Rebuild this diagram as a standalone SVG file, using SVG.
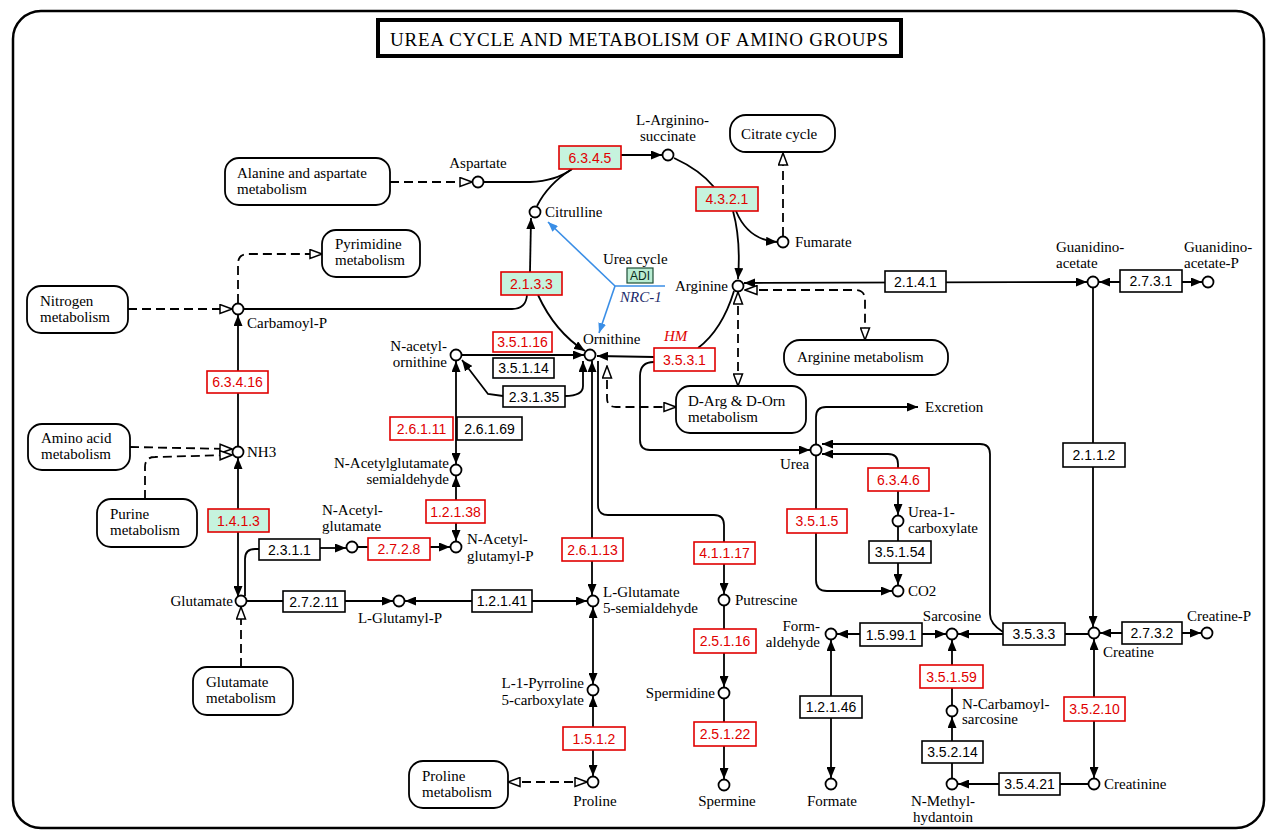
<svg xmlns="http://www.w3.org/2000/svg" width="1270" height="831" viewBox="0 0 1270 831">
<defs>
<style>
.c{font-family:"Liberation Serif",serif;font-size:15px;fill:#000}
.e{font-family:"Liberation Sans",sans-serif;font-size:14px;text-anchor:middle}
.m{text-anchor:middle}
.r{text-anchor:end}
.ln{fill:none;stroke:#000;stroke-width:1.8}
.d{fill:none;stroke:#000;stroke-width:1.8;stroke-dasharray:9,5}
.bl{fill:none;stroke:#3a8ee6;stroke-width:1.6}
.cp{fill:#fff;stroke:#000;stroke-width:1.8}
.eb{fill:#fff;stroke:#000;stroke-width:1.6}
.er{fill:#fff;stroke:#e00000;stroke-width:1.6}
.eg{fill:#c6f3de;stroke:#e00000;stroke-width:1.6}
.tr{fill:#e00000}
.tk{fill:#000}
.mp{fill:#fff;stroke:#000;stroke-width:1.8}
</style>
<marker id="a" viewBox="0 0 11 9" refX="11" refY="4.5" markerWidth="11" markerHeight="9" markerUnits="userSpaceOnUse" orient="auto-start-reverse"><path d="M0,0 L11,4.5 L0,9 z" fill="#000"/></marker>
<marker id="o" viewBox="0 0 14 11" refX="13" refY="5.5" markerWidth="14" markerHeight="11" markerUnits="userSpaceOnUse" orient="auto-start-reverse"><path d="M1,1 L13,5.5 L1,10 z" fill="#fff" stroke="#000" stroke-width="1.5"/></marker>
<marker id="b" viewBox="0 0 10 8" refX="10" refY="4" markerWidth="10" markerHeight="8" markerUnits="userSpaceOnUse" orient="auto"><path d="M0,0 L10,4 L0,8 z" fill="#3a8ee6"/></marker>
</defs>
<rect x="0" y="0" width="1270" height="831" fill="#fff"/>
<rect x="13" y="11" width="1251" height="817" rx="28" fill="none" stroke="#000" stroke-width="2.5"/>
<g id="title">
<rect x="378" y="20" width="523" height="36" fill="#fff" stroke="#000" stroke-width="4"/>
<text x="390" y="46" style="font-family:'Liberation Serif',serif;font-size:19px" textLength="498" lengthAdjust="spacing">UREA CYCLE AND METABOLISM OF AMINO GROUPS</text>
</g>
<g id="connectors">
<!-- urea cycle -->
<path class="ln" d="M537,206 Q548,184 572,169"/>
<path class="ln" d="M484,182 L530,182 Q556,181 572,169"/>
<path class="ln" d="M621,155 L662,155" marker-end="url(#a)"/>
<path class="ln" d="M674,158 Q700,170 714,187"/>
<path class="ln" d="M733,211 Q741,240 738,279" marker-end="url(#a)"/>
<path class="ln" d="M736,211 Q748,240 777,242" marker-end="url(#a)"/>
<path class="ln" d="M734,291 Q722,330 698,348"/>
<path class="ln" d="M654,357 L597,356" marker-end="url(#a)"/>
<path class="ln" d="M654,362 Q640,362 640,376 L640,440 Q640,450 650,450 L810,450" marker-end="url(#a)"/>
<path class="ln" d="M538,295 Q555,332 585,351" marker-end="url(#a)"/>
<path class="ln" d="M244,309 L512,309 Q526,309 527,295"/>
<path class="ln" d="M530,272 L531,218" marker-end="url(#a)"/>
<path class="bl" d="M615,286 L665,286"/>
<path class="bl" d="M615,286 L548,222" marker-end="url(#b)"/>
<path class="bl" d="M615,286 L599,333" marker-end="url(#b)"/>
<!-- ornithine area -->
<path class="ln" d="M462,355 L584,355" marker-end="url(#a)"/>
<path class="ln" d="M503,396 L488,394 L462,360" marker-end="url(#a)"/>
<path class="ln" d="M565,396 Q583,396 583,386 L583,361" marker-end="url(#a)"/>
<path class="ln" d="M592,361 L592,595" marker-start="url(#a)" marker-end="url(#a)"/>
<path class="ln" d="M598,361 L598,505 Q598,515 608,515 L714,515 Q724,515 724,525 L724,542"/>
<path class="ln" d="M724,564 L724,594" marker-end="url(#a)"/>
<path class="d" d="M607,366 L607,398 Q607,407 616,407 L676,407" marker-start="url(#o)" marker-end="url(#o)"/>
<path class="ln" d="M456,361 L456,464" marker-start="url(#a)" marker-end="url(#a)"/>
<path class="ln" d="M456,476 L456,541" marker-start="url(#a)" marker-end="url(#a)"/>
<path class="ln" d="M358,547 L450,547" marker-end="url(#a)"/>
<path class="ln" d="M245,596 L245,559 Q245,549 255,549 L259,549"/>
<path class="ln" d="M320,548 L346,548" marker-end="url(#a)"/>
<path class="ln" d="M238,597 L238,458" marker-start="url(#a)" marker-end="url(#a)"/>
<path class="ln" d="M238,446 L238,315" marker-end="url(#a)"/>
<path class="ln" d="M247,601 L393,601" marker-end="url(#a)"/>
<path class="ln" d="M405,601 L587,601" marker-start="url(#a)" marker-end="url(#a)"/>
<path class="ln" d="M593,607 L593,684" marker-start="url(#a)" marker-end="url(#a)"/>
<path class="ln" d="M593,696 L593,776" marker-start="url(#a)" marker-end="url(#a)"/>
<path class="d" d="M508,782 L587,782" marker-start="url(#o)" marker-end="url(#o)"/>
<path class="ln" d="M724,606 L724,687" marker-end="url(#a)"/>
<path class="ln" d="M724,699 L724,779" marker-end="url(#a)"/>
<!-- right part -->
<path class="ln" d="M831,640 L831,778" marker-start="url(#a)" marker-end="url(#a)"/>
<path class="ln" d="M837,634 L946,634" marker-start="url(#a)" marker-end="url(#a)"/>
<path class="ln" d="M1088,634 L958,634" marker-end="url(#a)"/>
<path class="ln" d="M822,444 L980,444 Q990,444 990,454 L990,614 Q990,624 1003,632" marker-start="url(#a)"/>
<path class="ln" d="M822,454 L888,454 Q898,454 898,464 L898,468" marker-start="url(#a)"/>
<path class="ln" d="M898,491 L898,515" marker-end="url(#a)"/>
<path class="ln" d="M898,527 L898,585" marker-end="url(#a)"/>
<path class="ln" d="M816,456 L816,580 Q816,591 827,591 L892,591" marker-end="url(#a)"/>
<path class="ln" d="M816,444 L816,417 Q816,407 826,407 L918,407" marker-end="url(#a)"/>
<path class="ln" d="M744,283 L1087,282" marker-start="url(#a)" marker-end="url(#a)"/>
<path class="ln" d="M1099,282 L1202,282" marker-start="url(#a)" marker-end="url(#a)"/>
<path class="ln" d="M1093,288 L1093,627" marker-end="url(#a)"/>
<path class="ln" d="M1100,633 L1201,633" marker-start="url(#a)" marker-end="url(#a)"/>
<path class="ln" d="M1094,639 L1094,778" marker-start="url(#a)" marker-end="url(#a)"/>
<path class="ln" d="M1088,784 L958,784" marker-end="url(#a)"/>
<path class="ln" d="M952,778 L952,717" marker-end="url(#a)"/>
<path class="ln" d="M952,705 L952,640" marker-end="url(#a)"/>
<!-- dashed map links -->
<path class="d" d="M390,182 L472,182" marker-end="url(#o)"/>
<path class="d" d="M783,236 L783,153" marker-end="url(#o)"/>
<path class="d" d="M128,309 L232,309" marker-end="url(#o)"/>
<path class="d" d="M238,303 L238,264 Q238,254 248,254 L322,254" marker-end="url(#o)"/>
<path class="d" d="M130,447 L232,449" marker-end="url(#o)"/>
<path class="d" d="M145,499 L145,467 Q145,457 155,457 L232,455" marker-end="url(#o)"/>
<path class="d" d="M241,667 L241,607" marker-end="url(#o)"/>
<path class="d" d="M745,290 L855,290 Q865,290 865,300 L865,340" marker-start="url(#o)" marker-end="url(#o)"/>
<path class="d" d="M738,292 L738,386" marker-start="url(#o)" marker-end="url(#o)"/>
</g>
<!-- pathway maps -->
<g id="map_ala"><rect class="mp" x="225" y="158" width="165" height="47" rx="14"/><text class="c" x="237" y="178">Alanine and aspartate</text><text class="c" x="237" y="194">metabolism</text></g>
<g id="map_citrate"><rect class="mp" x="730" y="115" width="105" height="37" rx="16"/><text class="c" x="741" y="139">Citrate cycle</text></g>
<g id="map_pyr"><rect class="mp" x="322" y="230" width="98" height="47" rx="14"/><text class="c" x="335" y="249">Pyrimidine</text><text class="c" x="335" y="265">metabolism</text></g>
<g id="map_nitro"><rect class="mp" x="27" y="286" width="101" height="47" rx="14"/><text class="c" x="40" y="306">Nitrogen</text><text class="c" x="40" y="322">metabolism</text></g>
<g id="map_amino"><rect class="mp" x="28" y="424" width="102" height="46" rx="14"/><text class="c" x="41" y="443">Amino acid</text><text class="c" x="41" y="459">metabolism</text></g>
<g id="map_purine"><rect class="mp" x="97" y="499" width="100" height="48" rx="14"/><text class="c" x="110" y="519">Purine</text><text class="c" x="110" y="535">metabolism</text></g>
<g id="map_glu"><rect class="mp" x="193" y="667" width="100" height="48" rx="14"/><text class="c" x="206" y="687">Glutamate</text><text class="c" x="206" y="703">metabolism</text></g>
<g id="map_pro"><rect class="mp" x="409" y="761" width="99" height="47" rx="14"/><text class="c" x="422" y="781">Proline</text><text class="c" x="422" y="797">metabolism</text></g>
<g id="map_arg"><rect class="mp" x="784" y="340" width="164" height="35" rx="16"/><text class="c" x="797" y="362">Arginine metabolism</text></g>
<g id="map_darg"><rect class="mp" x="676" y="386" width="130" height="47" rx="14"/><text class="c" x="688" y="406">D-Arg &amp; D-Orn</text><text class="c" x="688" y="422">metabolism</text></g>
<!-- urea cycle label -->
<g id="urea_cycle_label">
<text class="c" x="603" y="264">Urea cycle</text>
<rect x="627" y="268" width="26" height="15" fill="#b9ecd2" stroke="#1d4d35" stroke-width="1.2"/>
<text x="640" y="280" style="font-family:'Liberation Sans',sans-serif;font-size:12px;text-anchor:middle;fill:#0b2a1a">ADI</text>
<text x="620" y="302" style="font-family:'Liberation Serif',serif;font-size:15px;font-style:italic;fill:#1a2a6a">NRC-1</text>
<text x="664" y="341" style="font-family:'Liberation Serif',serif;font-size:15px;font-style:italic;fill:#e00000">HM</text>
</g>
<!-- enzymes -->
<g id="e6345"><rect class="eg" x="559" y="146" width="62" height="23"/><text class="e tr" x="590" y="162.5">6.3.4.5</text></g>
<g id="e4321"><rect class="eg" x="696" y="187" width="62" height="24"/><text class="e tr" x="727" y="204">4.3.2.1</text></g>
<g id="e2133"><rect class="eg" x="501" y="272" width="61" height="23"/><text class="e tr" x="531.5" y="288.5">2.1.3.3</text></g>
<g id="e63416"><rect class="er" x="207" y="371" width="61" height="22"/><text class="e tr" x="237.5" y="387">6.3.4.16</text></g>
<g id="e1413"><rect class="eg" x="208" y="509" width="61" height="23"/><text class="e tr" x="238.5" y="525.5">1.4.1.3</text></g>
<g id="e2311"><rect class="eb" x="259" y="539" width="61" height="21"/><text class="e tk" x="289.5" y="554.5">2.3.1.1</text></g>
<g id="e2728"><rect class="er" x="368" y="538" width="62" height="22"/><text class="e tr" x="399" y="554">2.7.2.8</text></g>
<g id="e12138"><rect class="er" x="426" y="500" width="59" height="23"/><text class="e tr" x="455.5" y="516.5">1.2.1.38</text></g>
<g id="e26111"><rect class="er" x="390" y="417" width="63" height="23"/><text class="e tr" x="421.5" y="433.5">2.6.1.11</text></g>
<g id="e26169"><rect class="eb" x="457" y="417" width="65" height="23"/><text class="e tk" x="489.5" y="433.5">2.6.1.69</text></g>
<g id="e35116"><rect class="er" x="493" y="332" width="59" height="20"/><text class="e tr" x="522.5" y="347">3.5.1.16</text></g>
<g id="e35114"><rect class="eb" x="493" y="358" width="61" height="20"/><text class="e tk" x="523.5" y="373">3.5.1.14</text></g>
<g id="e23135"><rect class="eb" x="503" y="386" width="62" height="21"/><text class="e tk" x="534" y="401.5">2.3.1.35</text></g>
<g id="e26113"><rect class="er" x="562" y="538" width="61" height="23"/><text class="e tr" x="592.5" y="554.5">2.6.1.13</text></g>
<g id="e3531"><rect class="er" x="654" y="348" width="61" height="23"/><text class="e tr" x="684.5" y="364.5">3.5.3.1</text></g>
<g id="e41117"><rect class="er" x="694" y="542" width="61" height="22"/><text class="e tr" x="724.5" y="558">4.1.1.17</text></g>
<g id="e6346"><rect class="er" x="868" y="468" width="61" height="23"/><text class="e tr" x="898.5" y="484.5">6.3.4.6</text></g>
<g id="e3515"><rect class="er" x="787" y="509" width="60" height="24"/><text class="e tr" x="817" y="526">3.5.1.5</text></g>
<g id="e35154"><rect class="eb" x="869" y="541" width="62" height="22"/><text class="e tk" x="900" y="557">3.5.1.54</text></g>
<g id="e2141"><rect class="eb" x="885" y="271" width="61" height="21"/><text class="e tk" x="915.5" y="286.5">2.1.4.1</text></g>
<g id="e2731"><rect class="eb" x="1120" y="270" width="62" height="22"/><text class="e tk" x="1151" y="286">2.7.3.1</text></g>
<g id="e2112"><rect class="eb" x="1063" y="443" width="62" height="24"/><text class="e tk" x="1094" y="460">2.1.1.2</text></g>
<g id="e27211"><rect class="eb" x="283" y="591" width="62" height="21"/><text class="e tk" x="314" y="606.5">2.7.2.11</text></g>
<g id="e12141"><rect class="eb" x="472" y="590" width="60" height="22"/><text class="e tk" x="502" y="606">1.2.1.41</text></g>
<g id="e1512"><rect class="er" x="563" y="727" width="62" height="23"/><text class="e tr" x="594" y="743.5">1.5.1.2</text></g>
<g id="e25116"><rect class="er" x="694" y="629" width="62" height="24"/><text class="e tr" x="725" y="646">2.5.1.16</text></g>
<g id="e25122"><rect class="er" x="694" y="722" width="62" height="24"/><text class="e tr" x="725" y="739">2.5.1.22</text></g>
<g id="e15991"><rect class="eb" x="860" y="623" width="62" height="23"/><text class="e tk" x="891" y="639.5">1.5.99.1</text></g>
<g id="e12146"><rect class="eb" x="800" y="696" width="62" height="22"/><text class="e tk" x="831" y="712">1.2.1.46</text></g>
<g id="e35159"><rect class="er" x="920" y="665" width="63" height="23"/><text class="e tr" x="951.5" y="681.5">3.5.1.59</text></g>
<g id="e35214"><rect class="eb" x="922" y="741" width="61" height="22"/><text class="e tk" x="952.5" y="757">3.5.2.14</text></g>
<g id="e3533"><rect class="eb" x="1003" y="623" width="62" height="22"/><text class="e tk" x="1034" y="639">3.5.3.3</text></g>
<g id="e2732"><rect class="eb" x="1122" y="622" width="60" height="22"/><text class="e tk" x="1152" y="638">2.7.3.2</text></g>
<g id="e35210"><rect class="er" x="1064" y="697" width="61" height="24"/><text class="e tr" x="1094.5" y="714">3.5.2.10</text></g>
<g id="e35421"><rect class="eb" x="999" y="773" width="61" height="22"/><text class="e tk" x="1029.5" y="789">3.5.4.21</text></g>
<!-- compounds -->
<g id="asp"><circle class="cp" cx="478" cy="182" r="5.5"/><text class="c m" x="478" y="168">Aspartate</text></g>
<g id="asuc"><circle class="cp" cx="668" cy="155" r="5.5"/><text class="c" x="636" y="125">L-Arginino-</text><text class="c" x="640" y="141">succinate</text></g>
<g id="cit"><circle class="cp" cx="535" cy="212" r="5.5"/><text class="c" x="545" y="217">Citrulline</text></g>
<g id="fum"><circle class="cp" cx="783" cy="242" r="5.5"/><text class="c" x="795" y="247">Fumarate</text></g>
<g id="arg"><circle class="cp" cx="738" cy="286" r="5.5"/><text class="c r" x="728" y="291">Arginine</text></g>
<g id="orn"><circle class="cp" cx="590" cy="355" r="5.5"/><text class="c" x="583" y="344">Ornithine</text></g>
<g id="nao"><circle class="cp" cx="456" cy="355" r="5.5"/><text class="c r" x="447" y="351">N-acetyl-</text><text class="c r" x="447" y="367">ornithine</text></g>
<g id="nags"><circle class="cp" cx="456" cy="470" r="5.5"/><text class="c r" x="449" y="468">N-Acetylglutamate</text><text class="c r" x="449" y="484">semialdehyde</text></g>
<g id="nagp"><circle class="cp" cx="456" cy="547" r="5.5"/><text class="c" x="467" y="544">N-Acetyl-</text><text class="c" x="467" y="561">glutamyl-P</text></g>
<g id="nag"><circle class="cp" cx="352" cy="547" r="5.5"/><text class="c" x="322" y="515">N-Acetyl-</text><text class="c" x="322" y="531">glutamate</text></g>
<g id="cp"><circle class="cp" cx="238" cy="309" r="5.5"/><text class="c" x="247" y="328">Carbamoyl-P</text></g>
<g id="nh3"><circle class="cp" cx="238" cy="452" r="5.5"/><text class="c" x="247" y="457">NH3</text></g>
<g id="glu"><circle class="cp" cx="241" cy="601" r="5.5"/><text class="c r" x="233" y="606">Glutamate</text></g>
<g id="gp"><circle class="cp" cx="399" cy="601" r="5.5"/><text class="c m" x="400" y="623">L-Glutamyl-P</text></g>
<g id="gsa"><circle class="cp" cx="593" cy="601" r="5.5"/><text class="c" x="603" y="597">L-Glutamate</text><text class="c" x="603" y="613">5-semialdehyde</text></g>
<g id="p5c"><circle class="cp" cx="593" cy="690" r="5.5"/><text class="c r" x="584" y="688">L-1-Pyrroline</text><text class="c r" x="584" y="705">5-carboxylate</text></g>
<g id="pro"><circle class="cp" cx="593" cy="782" r="5.5"/><text class="c m" x="595" y="806">Proline</text></g>
<g id="put"><circle class="cp" cx="724" cy="600" r="5.5"/><text class="c" x="735" y="605">Putrescine</text></g>
<g id="spd"><circle class="cp" cx="724" cy="693" r="5.5"/><text class="c r" x="715" y="698">Spermidine</text></g>
<g id="spm"><circle class="cp" cx="724" cy="785" r="5.5"/><text class="c m" x="727" y="806">Spermine</text></g>
<g id="fal"><circle class="cp" cx="831" cy="634" r="5.5"/><text class="c r" x="820" y="631">Form-</text><text class="c r" x="820" y="647">aldehyde</text></g>
<g id="fmt"><circle class="cp" cx="831" cy="784" r="5.5"/><text class="c m" x="832" y="806">Formate</text></g>
<g id="sar"><circle class="cp" cx="952" cy="634" r="5.5"/><text class="c m" x="952" y="621">Sarcosine</text></g>
<g id="ncs"><circle class="cp" cx="952" cy="711" r="5.5"/><text class="c" x="962" y="709">N-Carbamoyl-</text><text class="c" x="962" y="724">sarcosine</text></g>
<g id="nmh"><circle class="cp" cx="952" cy="784" r="5.5"/><text class="c m" x="943" y="806">N-Methyl-</text><text class="c m" x="943" y="822">hydantoin</text></g>
<g id="crn"><circle class="cp" cx="1094" cy="633" r="5.5"/><text class="c" x="1103" y="657">Creatine</text></g>
<g id="crp"><circle class="cp" cx="1207" cy="633" r="5.5"/><text class="c" x="1187" y="621">Creatine-P</text></g>
<g id="crt"><circle class="cp" cx="1094" cy="784" r="5.5"/><text class="c" x="1104" y="789">Creatinine</text></g>
<g id="gaa"><circle class="cp" cx="1093" cy="282" r="5.5"/><text class="c" x="1056" y="252">Guanidino-</text><text class="c" x="1056" y="268">acetate</text></g>
<g id="gap"><circle class="cp" cx="1208" cy="282" r="5.5"/><text class="c" x="1184" y="252">Guanidino-</text><text class="c" x="1184" y="268">acetate-P</text></g>
<g id="urea"><circle class="cp" cx="816" cy="450" r="5.5"/><text class="c" x="780" y="469">Urea</text></g>
<g id="u1c"><circle class="cp" cx="898" cy="521" r="5.5"/><text class="c" x="908" y="517">Urea-1-</text><text class="c" x="908" y="533">carboxylate</text></g>
<g id="co2"><circle class="cp" cx="898" cy="591" r="5.5"/><text class="c" x="908" y="596">CO2</text></g>
<g id="excretion"><text class="c" x="925" y="412">Excretion</text></g>
</svg>
